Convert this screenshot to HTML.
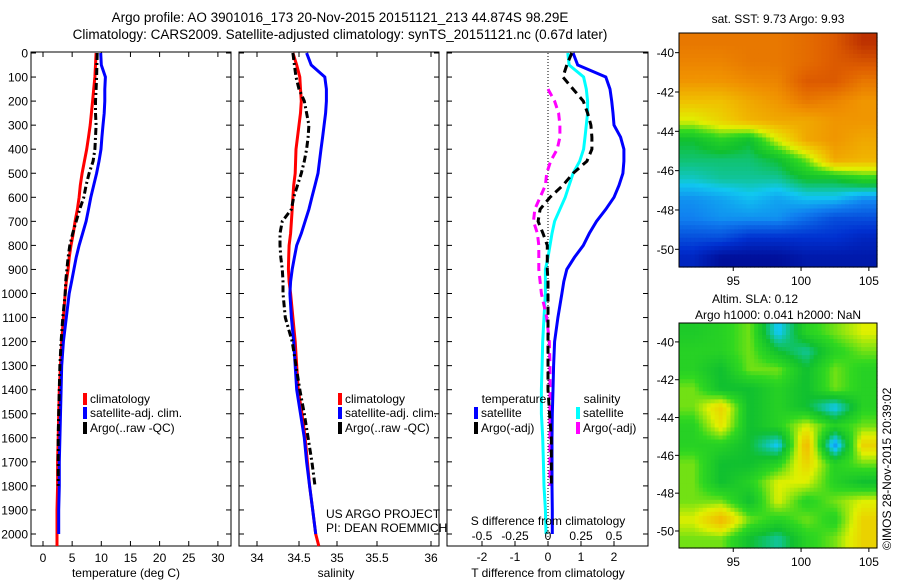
<!DOCTYPE html>
<html><head><meta charset="utf-8"><style>
html,body{margin:0;padding:0;background:#fff;}
svg{display:block;font-family:"Liberation Sans",sans-serif;}
</style></head><body>
<svg id="fig" width="900" height="580" xmlns="http://www.w3.org/2000/svg">
<text x="340" y="22" font-size="13.5" text-anchor="middle">Argo profile: AO 3901016_173 20-Nov-2015 20151121_213 44.874S 98.29E</text>
<text x="340" y="39" font-size="13.5" text-anchor="middle">Climatology: CARS2009. Satellite-adjusted climatology: synTS_20151121.nc (0.67d later)</text>
<g id="layer"></g>
<text x="778" y="23" font-size="12" text-anchor="middle">sat. SST: 9.73 Argo: 9.93</text>
<text x="755" y="303" font-size="12" text-anchor="middle">Altim. SLA: 0.12</text>
<text x="778" y="319" font-size="12" text-anchor="middle">Argo h1000: 0.041 h2000: NaN</text>
<text transform="translate(891,550) rotate(-90)" font-size="12">©IMOS 28-Nov-2015 20:39:02</text>
<text x="326" y="518" font-size="12">US ARGO PROJECT</text>
<text x="326" y="532" font-size="12">PI: DEAN ROEMMICH</text>
</svg>
<script>
// ---- data ----
const depths=[0,50,100,150,200,250,300,350,400,450,500,550,600,650,700,750,800,850,900,950,1000,1100,1200,1300,1400,1500,1600,1700,1800,1900,2000,2050];
const tempClim=[9.1,9.0,8.9,8.7,8.5,8.3,8.1,7.8,7.5,7.1,6.7,6.4,6.2,5.9,5.5,5.2,4.8,4.5,4.3,4.0,3.8,3.5,3.2,3.0,2.8,2.7,2.6,2.5,2.5,2.4,2.4,2.4];
const tempSat=[9.9,10.0,10.7,10.6,10.6,10.5,10.3,10.1,9.95,9.6,9.2,8.7,8.2,7.8,7.4,6.8,6.2,5.7,5.3,4.9,4.5,4.0,3.5,3.2,3.1,3.0,2.9,2.8,2.8,2.7,2.7,null];
const tempArgo=[9.3,9.25,9.2,9.1,9.0,9.0,9.1,9.0,8.9,8.6,7.9,7.4,7.0,6.3,5.7,5.1,4.6,4.3,4.1,3.9,3.8,3.4,3.1,2.9,2.8,2.7,2.6,2.6,2.6,null,null,null];
const salClim=[34.42,34.47,34.51,34.52,34.53,34.52,34.5,34.48,34.46,34.455,34.45,34.43,34.42,34.41,34.40,34.39,34.37,34.365,34.36,34.37,34.39,34.42,34.45,34.47,34.49,34.54,34.58,34.61,34.64,34.68,34.72,34.76];
const salSat=[34.6,34.66,34.84,34.86,34.86,34.85,34.83,34.81,34.79,34.77,34.75,34.71,34.67,34.63,34.58,34.53,34.47,34.44,34.41,34.39,34.38,34.4,34.43,34.45,34.47,34.52,34.57,34.6,34.64,34.68,34.72,null];
const salArgo=[34.42,34.44,34.46,34.5,34.57,34.6,34.63,34.62,34.6,34.57,34.53,34.48,34.43,34.4,34.28,34.25,34.25,34.26,34.28,34.29,34.29,34.32,34.41,34.46,34.51,34.57,34.62,34.67,34.71,null,null,null];
const dTSat=[0.76,0.9,1.75,1.88,1.93,1.97,2.0,2.2,2.3,2.3,2.27,2.15,2.0,1.75,1.47,1.25,1.07,0.8,0.57,0.48,0.42,0.3,0.2,0.17,0.15,0.13,0.12,0.12,0.12,0.13,0.13,null];
const dTArgo=[0.72,0.57,0.45,0.76,1.07,1.2,1.3,1.33,1.33,1.18,0.76,0.45,0.06,-0.24,-0.3,-0.15,-0.02,-0.02,-0.02,0.0,0.0,0.0,0.0,0.0,0.0,0.05,0.1,0.1,0.1,null,null,null];
const dSSat=[0.15,0.16,0.27,0.29,0.3,0.3,0.29,0.28,0.27,0.24,0.19,0.16,0.13,0.09,0.05,0.03,0.015,0.0,-0.02,-0.02,-0.02,-0.03,-0.04,-0.045,-0.05,-0.05,-0.04,-0.035,-0.03,-0.02,-0.015,null];
const dSArgo=[null,null,null,0.0,0.05,0.08,0.09,0.09,0.07,0.02,-0.01,-0.02,-0.06,-0.1,-0.11,-0.08,-0.07,-0.07,-0.07,-0.06,-0.05,-0.01,0.01,0.015,0.015,0.015,0.015,0.015,0.015,null,null,null];
const depthTicks=[0,100,200,300,400,500,600,700,800,900,1000,1100,1200,1300,1400,1500,1600,1700,1800,1900,2000];
const tempTicks=[0,5,10,15,20,25,30];
const salTicks=[34,34.5,35,35.5,36];
const dTTicks=[-2,-1,0,1,2];
const dSTickLabels=["-0.5","-0.25","0","0.25","0.5"];
const dSTicks=[-0.5,-0.25,0,0.25,0.5];
const mapLon=[95,100,105];
const mapLat=[-40,-42,-44,-46,-48,-50];
const sstGrid=[
[0.8,0.8,0.8,0.8,0.82,0.85,0.92],
[0.78,0.78,0.8,0.8,0.82,0.85,0.86],
[0.75,0.75,0.77,0.78,0.85,0.85,0.8],
[0.68,0.68,0.72,0.75,0.8,0.78,0.75],
[0.6,0.65,0.7,0.72,0.72,0.75,0.75],
[0.45,0.5,0.45,0.6,0.72,0.75,0.72],
[0.42,0.42,0.42,0.45,0.55,0.72,0.7],
[0.38,0.4,0.4,0.4,0.45,0.45,0.5],
[0.3,0.32,0.35,0.32,0.35,0.35,0.3],
[0.28,0.3,0.3,0.3,0.25,0.2,0.2],
[0.2,0.2,0.15,0.15,0.15,0.15,0.12],
[0.12,0.05,0.05,0.05,0.08,0.08,0.08]];
const slaGrid=[
[0.48,0.5,0.55,0.35,0.5,0.55,0.6],
[0.5,0.5,0.55,0.45,0.4,0.5,0.55],
[0.5,0.45,0.55,0.55,0.45,0.55,0.5],
[0.55,0.45,0.45,0.5,0.45,0.55,0.5],
[0.55,0.65,0.45,0.5,0.45,0.35,0.5],
[0.5,0.62,0.45,0.5,0.6,0.5,0.55],
[0.5,0.5,0.45,0.35,0.7,0.3,0.65],
[0.55,0.45,0.45,0.5,0.65,0.5,0.55],
[0.55,0.45,0.5,0.6,0.6,0.5,0.45],
[0.55,0.55,0.45,0.6,0.5,0.55,0.6],
[0.6,0.7,0.55,0.5,0.55,0.5,0.65],
[0.55,0.55,0.45,0.4,0.5,0.55,0.65]];
// ---- drawing ----
const NS='http://www.w3.org/2000/svg';
const layer=document.getElementById('layer');
function mk(tag,attrs,parent){const e=document.createElementNS(NS,tag);for(const k in attrs)e.setAttribute(k,attrs[k]);(parent||layer).appendChild(e);return e;}
const Y0=53,Y1=546;
const yD=d=>Y0+0.2405*d;
const xT=t=>43+5.83*t;
const xS=s=>299+76*(s-34.5);
const xDT=t=>548+33*t;
const xDS=s=>548+132*s;
function box(x0,x1,name){
  const r=mk('rect',{x:x0,y:Y0-1,width:x1-x0,height:Y1-Y0+1,fill:'none',stroke:'#000','stroke-width':1});
  
  
}
function line(vals,xf,color,dash,name,w){
  let d='',pen=false;
  for(let i=0;i<depths.length;i++){
    const v=vals[i];
    if(v===null){pen=false;continue;}
    d+=(pen?'L':'M')+xf(v).toFixed(1)+','+yD(depths[i]).toFixed(1);pen=true;
  }
  const p=mk('path',{d:d,fill:'none',stroke:color,'stroke-width':w||3});
  if(dash)p.setAttribute('stroke-dasharray',dash);
  
  
}
function xticks(ticks,labels,xf,y,x0,x1,name,tb){
  ticks.forEach((t,i)=>{
    const x=xf(t);
    mk('line',{x1:x,x2:x,y1:Y1,y2:Y1-5,stroke:'#000'});
    if(tb!==false)mk('line',{x1:x,x2:x,y1:Y0-1,y2:Y0+4,stroke:'#000'});
    const tx=mk('text',{x:x,y:y,'font-size':12,'text-anchor':'middle'});
    tx.textContent=labels[i];
    
    
  });
}
function yticks(x0,x1,labels){
  depthTicks.forEach(d=>{
    const y=yD(d);
    mk('line',{x1:x0,x2:x0+5,y1:y,y2:y,stroke:'#000'});
    mk('line',{x1:x1,x2:x1-5,y1:y,y2:y,stroke:'#000'});
    if(labels){const t=mk('text',{x:x0-3,y:y+4.5,'font-size':12,'text-anchor':'end'});t.textContent=d;
      
      }
  });
}
function legend(x,y,color,label,name){
  mk('rect',{x:x-7,y:y-10,width:4,height:12,fill:color});
  const t=mk('text',{x:x,y:y,'font-size':12});t.textContent=label;
  
  
}
function label(x,y,s,name,anchor){const t=mk('text',{x:x,y:y,'font-size':12,'text-anchor':anchor||'middle'});t.textContent=s;
  
  }
// panel 1
box(31,231,'temperature-panel');
yticks(31,231,true);
xticks(tempTicks,tempTicks.map(String),xT,562,31,231,'temperature-tick-label');
line(tempClim,xT,'#ff0000',null,'temp-climatology-line');
line(tempSat,xT,'#0000ff',null,'temp-satellite-line');
line(tempArgo,xT,'#000',"7,3,2,3",'temp-argo-line');
label(126,577,'temperature (deg C)','temperature-axis-title');
legend(90,403,'#ff0000','climatology','legend-climatology');
legend(90,417,'#0000ff','satellite-adj. clim.','legend-satellite');
legend(90,432,'#000','Argo(..raw -QC)','legend-argo');
// panel 2
box(239,439,'salinity-panel');
yticks(239,439,false);
xticks(salTicks,['34','34.5','35','35.5','36'],s=>({34:257,34.5:299,35:337,35.5:377,36:431})[s],562,239,439,'salinity-tick-label');
line(salClim,xS,'#ff0000',null,'sal-climatology-line');
line(salSat,xS,'#0000ff',null,'sal-satellite-line');
line(salArgo,xS,'#000',"7,3,2,3",'sal-argo-line');
label(336,577,'salinity','salinity-axis-title');
legend(345,403,'#ff0000','climatology','legend-sal-climatology');
legend(345,417,'#0000ff','satellite-adj. clim.','legend-sal-satellite');
legend(345,432,'#000','Argo(..raw -QC)','legend-sal-argo');
// panel 3
box(447,648,'difference-panel');
yticks(447,648,false);
mk('line',{x1:xDT(0),x2:xDT(0),y1:Y0,y2:Y1,stroke:'#000','stroke-dasharray':'1,2'});
xticks(dTTicks,dTTicks.map(String),xDT,561,447,648,'t-diff-tick-label',false);
line(dSSat,xDS,'#00ffff',null,'s-diff-satellite-line');
line(dSArgo,xDS,'#ff00ff','8,5','s-diff-argo-line');
line(dTSat,xDT,'#0000ff',null,'t-diff-satellite-line');
line(dTArgo,xDT,'#000','8,5','t-diff-argo-line');
dSTicks.forEach((s,i)=>label(xDS(s),540,dSTickLabels[i],'s-diff-tick-label'));
label(548,525,'S difference from climatology','s-diff-axis-title');
label(548,577,'T difference from climatology','t-diff-axis-title');
label(514,403,'temperature','legend-temperature-heading');
label(602,403,'salinity','legend-salinity-heading');
legend(481,417,'#0000ff','satellite','legend-t-satellite');
legend(481,432,'#000','Argo(-adj)','legend-t-argo');
legend(583,417,'#00ffff','satellite','legend-s-satellite');
legend(583,432,'#ff00ff','Argo(-adj)','legend-s-argo');
// maps
const stops=[[0,[0,0,128]],[0.15,[0,48,208]],[0.28,[16,128,240]],[0.36,[16,200,240]],[0.45,[16,192,48]],[0.52,[48,216,32]],[0.6,[224,240,0]],[0.68,[240,192,0]],[0.76,[240,144,0]],[0.84,[224,96,0]],[0.95,[176,32,0]],[1,[150,0,0]]];
function cmap(v){for(let i=1;i<stops.length;i++){if(v<=stops[i][0]){const a=stops[i-1],b=stops[i],f=(v-a[0])/(b[0]-a[0]);return 'rgb('+a[1].map((c,k)=>Math.round(c+(b[1][k]-c)*f)).join(',')+')';}}return 'rgb(150,0,0)';}
function drawMap(grid,x0,y0,w,h,name){
  const g=mk('g',{});
  
  
  const R=grid.length,C=grid[0].length,nx=50,ny=56;
  const cw=w/nx,ch=h/ny;
  for(let j=0;j<ny;j++)for(let i=0;i<nx;i++){
    const fy=Math.min(R-1.001,Math.max(0,(j+0.5)/ny*R-0.5)),fx=Math.min(C-1.001,Math.max(0,(i+0.5)/nx*C-0.5));
    const r0=Math.floor(fy),c0=Math.floor(fx),ty=fy-r0,tx=fx-c0;
    const v=grid[r0][c0]*(1-tx)*(1-ty)+grid[r0][c0+1]*tx*(1-ty)+grid[r0+1][c0]*(1-tx)*ty+grid[r0+1][c0+1]*tx*ty;
    mk('rect',{x:(x0+i*cw).toFixed(2),y:(y0+j*ch).toFixed(2),width:(cw+0.6).toFixed(2),height:(ch+0.6).toFixed(2),fill:cmap(v)},g);
  }
  mk('rect',{x:x0,y:y0,width:w,height:h,fill:'none',stroke:'#000'});
  const lx=l=>x0+(l-91)/(105.6-91)*w, ly=l=>y0+(-39-l)/(50.9-39)*h;
  mapLon.forEach(l=>{mk('line',{x1:lx(l),x2:lx(l),y1:y0+h,y2:y0+h+4,stroke:'#000'});label(lx(l),y0+h+18,String(l),name+'-lon-tick');});
  mapLat.forEach(l=>{mk('line',{x1:x0-4,x2:x0,y1:ly(l),y2:ly(l),stroke:'#000'});label(x0-5,ly(l)+4.5,String(l),name+'-lat-tick','end');});
}
drawMap(sstGrid,679,33,198,234,'sst-map');
drawMap(slaGrid,679,323,198,225,'sla-map');
</script>
</body></html>
